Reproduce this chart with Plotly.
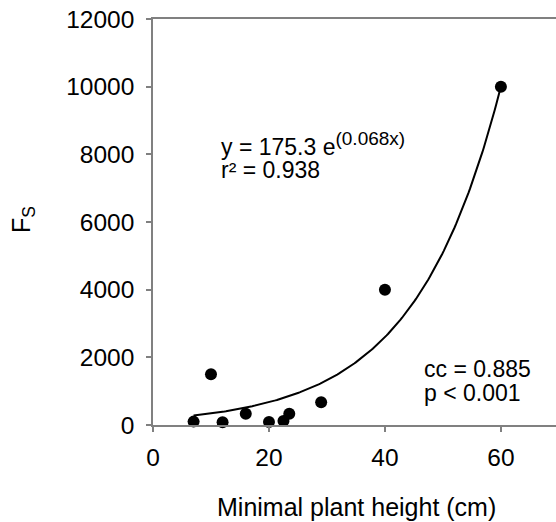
import numpy as np
import plotly.graph_objects as go

# Data
plant_height = [7, 10, 12, 16, 20, 22.5, 23.5, 29, 40, 60]
fs_values = [100, 1500, 80, 330, 90, 120, 330, 670, 4000, 10000]

# Exponential fit parameters (trend line)
fit_a = 175.3
fit_b = 0.0674
fit_x_start = 7
fit_x_end = 60

x_ticks = [0, 20, 40, 60]
y_ticks = [0, 2000, 4000, 6000, 8000, 10000, 12000]

W, H = 556, 522
L, R, T, B = 153, 0, 19, 97
FONT = "Liberation Sans, Arial, sans-serif"

xf = np.linspace(fit_x_start, fit_x_end, 200)
yf = fit_a * np.exp(fit_b * xf)

fig = go.Figure()
fig.add_trace(go.Scatter(x=xf, y=yf, mode="lines",
                         line=dict(color="black", width=2), hoverinfo="skip",
                         showlegend=False, cliponaxis=False))
fig.add_trace(go.Scatter(x=plant_height, y=fs_values, mode="markers",
                         marker=dict(color="black", size=12), showlegend=False,
                         cliponaxis=False))

axis_color = "#808080"
fig.update_layout(
    width=W, height=H,
    margin=dict(l=L, r=R, t=T, b=B, pad=0),
    paper_bgcolor="white", plot_bgcolor="white",
    font=dict(family=FONT, color="black", size=24),
    xaxis=dict(range=[0, 69.5], tickvals=x_ticks, ticktext=[str(v) for v in x_ticks],
               showgrid=False, zeroline=False, showline=True, linecolor=axis_color,
               linewidth=1.5, mirror=True, ticks="outside", ticklen=5, tickcolor=axis_color,
               tickwidth=1.5, tickfont=dict(size=24.5), ticklabelstandoff=5),
    yaxis=dict(range=[0, 12000], tickvals=y_ticks, ticktext=[str(v) for v in y_ticks],
               showgrid=False, zeroline=False, showline=True, linecolor=axis_color,
               linewidth=1.5, ticks="outside", ticklen=5, tickcolor=axis_color,
               tickwidth=1.5, tickfont=dict(size=24.5), ticklabelstandoff=7),
)

pw = W - L - R
ph = H - T - B
def px_x(p):
    return (p - L) / pw
def px_y(p):
    return (H - B - p) / ph

annots = [
    dict(text="y = 175.3 e<sup><span style='font-size:19px'>(0.068x)</span></sup>",
         x=px_x(219), y=px_y(144), size=23),
    dict(text="r² = 0.938", x=px_x(219), y=px_y(170), size=23),
    dict(text="cc = 0.885", x=px_x(422), y=px_y(369), size=23),
    dict(text="p < 0.001", x=px_x(422), y=px_y(393), size=23),
]
for a in annots:
    fig.add_annotation(text=a["text"], x=a["x"], y=a["y"], xref="paper", yref="paper",
                       xanchor="left", yanchor="middle", showarrow=False,
                       font=dict(size=a["size"], family=FONT, color="black"))

fig.add_annotation(text="Minimal plant height (cm)", x=px_x(356), y=px_y(507),
                   xref="paper", yref="paper", xanchor="center", yanchor="middle",
                   showarrow=False, font=dict(size=25, family=FONT, color="black"))
fig.add_annotation(text="F<sub>S</sub>", x=px_x(23), y=px_y(220),
                   xref="paper", yref="paper", xanchor="center", yanchor="middle",
                   textangle=-90, showarrow=False,
                   font=dict(size=25, family=FONT, color="black"))

fig.write_html("out.html")
